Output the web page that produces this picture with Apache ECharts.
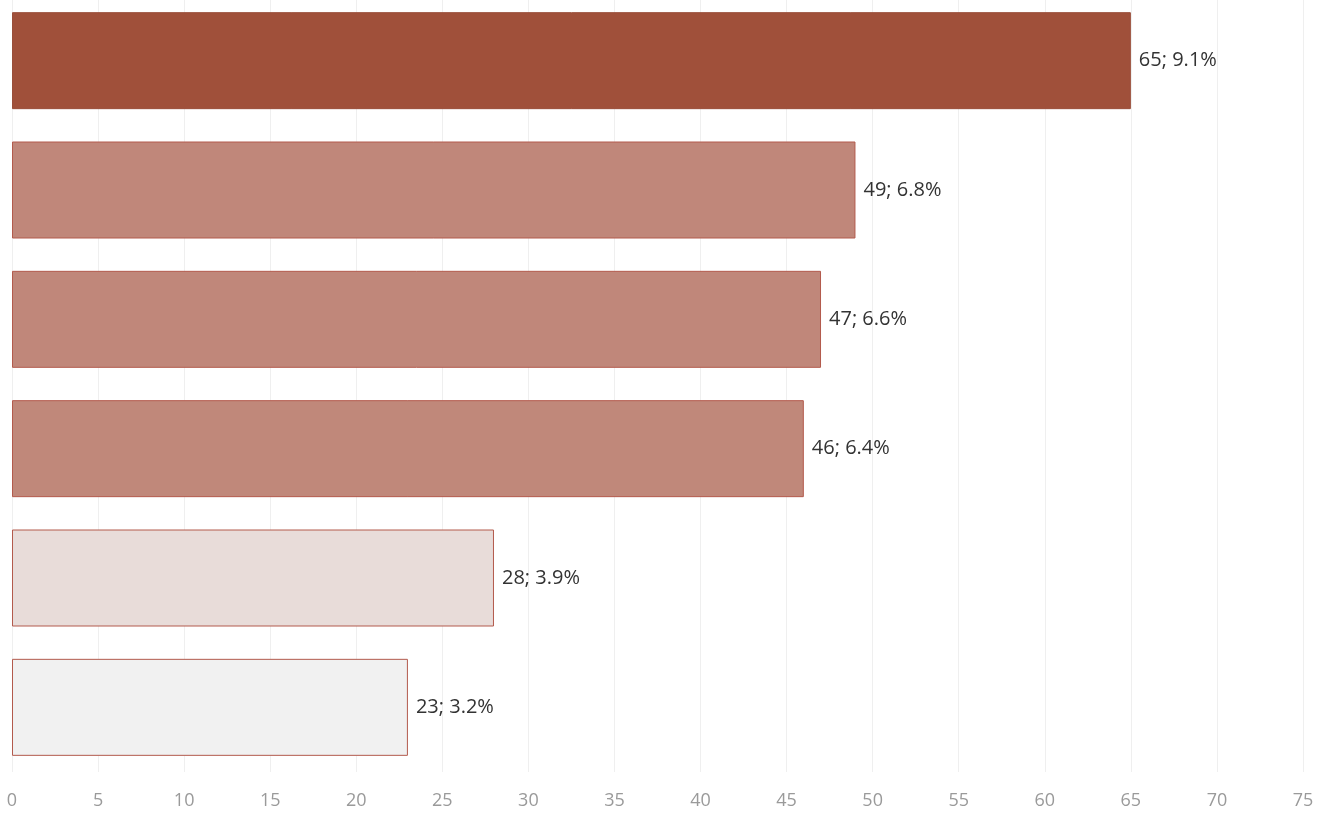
<!DOCTYPE html>
<html>
<head>
<meta charset="utf-8">
<script src="https://cdn.jsdelivr.net/npm/echarts@6/dist/echarts.min.js"></script>
<style>
html,body{margin:0;padding:0;background:#fff;overflow:hidden;}
#chart{width:1323px;height:818px;margin-top:-4px;}
</style>
</head>
<body>
<div id="chart"></div>
<script>
const categories = ['A', 'B', 'C', 'D', 'E', 'F'];
const counts = [65, 49, 47, 46, 28, 23];
const percents = ['9.1%', '6.8%', '6.6%', '6.4%', '3.9%', '3.2%'];
const barColors = ['#a0503a', '#c0877a', '#c0877a', '#c0887a', '#e8dcd9', '#f1f1f1'];
const xTicks = [0, 5, 10, 15, 20, 25, 30, 35, 40, 45, 50, 55, 60, 65, 70, 75];

const chart = echarts.init(document.getElementById('chart'));
chart.setOption({
  animation: false,
  grid: { left: 12, right: 20, top: 0, bottom: 42, containLabel: false },
  xAxis: {
    type: 'value', min: 0, max: 75, interval: 5,
    axisLine: { show: false }, axisTick: { show: false },
    splitLine: { lineStyle: { color: '#efefef', width: 1 } },
    axisLabel: { color: '#9a9a9a', fontSize: 18, fontFamily: 'Open Sans', margin: 20,
      formatter: v => xTicks.includes(v) ? String(v) : '' }
  },
  yAxis: {
    type: 'category', data: categories, inverse: true,
    axisLine: { show: false }, axisTick: { show: false }, axisLabel: { show: false }
  },
  series: [{
    type: 'bar',
    barCategoryGap: '25%',
    data: counts.map((v, i) => ({
      value: v,
      itemStyle: { color: barColors[i], borderColor: i === 0 ? '#9a4e3a' : '#b35a4c', borderWidth: 1 }
    })),
    label: {
      show: true, position: 'right', distance: 8,
      color: '#333', fontSize: 20, fontFamily: 'Open Sans',
      formatter: p => counts[p.dataIndex] + '; ' + percents[p.dataIndex]
    }
  }]
});
</script>
</body>
</html>
